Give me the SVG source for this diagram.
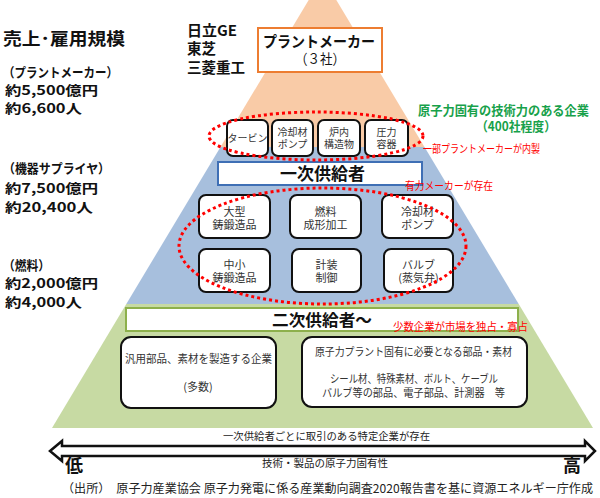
<svg xmlns="http://www.w3.org/2000/svg" width="600" height="498" viewBox="0 0 600 498">
<style>
text{font-family:"Noto Sans CJK JP","Noto Sans",sans-serif;}
.hd{font-size:13px;font-weight:bold;fill:#111;}
.bx{fill:#fff;stroke:#111;stroke-width:2;}
.bt{font-size:11px;fill:#333;text-anchor:middle;}
.tt{font-size:10px;fill:#333;text-anchor:middle;}
.rt{font-size:11px;fill:#ff0000;}
.dot{fill:none;stroke:#ff0000;stroke-width:3;stroke-dasharray:3 3;}
.sm{font-size:10.5px;fill:#222;}
</style>
<rect width="600" height="498" fill="#fff"/>
<g id="pyramid">
<polygon points="322.5,-23 424.5,147 220.5,147" fill="#F9CBA7"/>
<polygon points="220.5,147 424.5,147 518.7,304 126.3,304" fill="#A7BFDD"/>
<polygon points="126.3,304 518.7,304 593,428 52,428" fill="#C7DAA3"/>
</g>
<g id="left-labels">
<text x="3" y="45" font-size="17" font-weight="bold" fill="#111" textLength="122" lengthAdjust="spacingAndGlyphs">売上･雇用規模</text>
<text class="hd" x="3" y="77" textLength="115" lengthAdjust="spacingAndGlyphs">（プラントメーカー）</text>
<text class="hd" x="5" y="95" textLength="93" lengthAdjust="spacingAndGlyphs">約5,500億円</text>
<text class="hd" x="5" y="113" textLength="77" lengthAdjust="spacingAndGlyphs">約6,600人</text>
<text class="hd" x="3" y="173" textLength="107" lengthAdjust="spacingAndGlyphs">（機器サプライヤ）</text>
<text class="hd" x="5" y="193" textLength="93" lengthAdjust="spacingAndGlyphs">約7,500億円</text>
<text class="hd" x="5" y="212" textLength="88" lengthAdjust="spacingAndGlyphs">約20,400人</text>
<text class="hd" x="3" y="270" textLength="47" lengthAdjust="spacingAndGlyphs">（燃料）</text>
<text class="hd" x="5" y="288" textLength="93" lengthAdjust="spacingAndGlyphs">約2,000億円</text>
<text class="hd" x="5" y="307" textLength="77" lengthAdjust="spacingAndGlyphs">約4,000人</text>
</g>
<g id="makers">
<text x="187" y="36" font-size="14.5" font-weight="bold" fill="#111" textLength="50" lengthAdjust="spacingAndGlyphs">日立GE</text>
<text x="187" y="54" font-size="14.5" font-weight="bold" fill="#111">東芝</text>
<text x="187" y="73" font-size="14.5" font-weight="bold" fill="#111" textLength="58" lengthAdjust="spacingAndGlyphs">三菱重工</text>
</g>
<g id="plant-maker">
<rect x="258" y="28" width="124" height="44" fill="#fff" stroke="#ED7D31" stroke-width="2"/>
<text x="319" y="47" font-size="15" font-weight="bold" fill="#111" text-anchor="middle" textLength="112" lengthAdjust="spacingAndGlyphs">プラントメーカー</text>
<text x="320" y="64" font-size="14" fill="#111" text-anchor="middle" textLength="50" lengthAdjust="spacingAndGlyphs">（３社）</text>
</g>
<g id="top-row">
<rect class="bx" x="227" y="120" width="41" height="36" rx="6"/>
<text class="tt" x="247.5" y="142">タービン</text>
<rect class="bx" x="272" y="120" width="41" height="36" rx="6"/>
<text class="tt" x="292.5" y="136">冷却材</text>
<text class="tt" x="292.5" y="148">ポンプ</text>
<rect class="bx" x="318" y="120" width="42" height="36" rx="6"/>
<text class="tt" x="339" y="136">炉内</text>
<text class="tt" x="339" y="148">構造物</text>
<rect class="bx" x="365" y="120" width="43" height="36" rx="6"/>
<text class="tt" x="386.5" y="136">圧力</text>
<text class="tt" x="386.5" y="148">容器</text>
</g>
<g id="green-note">
<text x="418" y="115" font-size="13" font-weight="bold" fill="#17A14A" textLength="171" lengthAdjust="spacingAndGlyphs">原子力固有の技術力のある企業</text>
<text x="476" y="131" font-size="13" font-weight="bold" fill="#17A14A" textLength="80" lengthAdjust="spacingAndGlyphs">（400社程度）</text>
</g>
<g id="primary">
<rect x="218" y="162" width="204" height="23" fill="#fff" stroke="#3F6FB5" stroke-width="2"/>
<text x="322.5" y="180" font-size="17" font-weight="bold" fill="#111" text-anchor="middle" textLength="85" lengthAdjust="spacingAndGlyphs">一次供給者</text>
</g>
<g id="mid-boxes">
<rect class="bx" x="199" y="195" width="71" height="43" rx="7"/>
<text class="bt" x="234.5" y="216">大型</text>
<text class="bt" x="234.5" y="229">鋳鍛造品</text>
<rect class="bx" x="290" y="195" width="71" height="43" rx="7"/>
<text class="bt" x="325.5" y="216">燃料</text>
<text class="bt" x="325.5" y="229">成形加工</text>
<rect class="bx" x="382" y="195" width="71" height="43" rx="7"/>
<text class="bt" x="417.5" y="216">冷却材</text>
<text class="bt" x="417.5" y="229">ポンプ</text>
<rect class="bx" x="199" y="249" width="71" height="43" rx="7"/>
<text class="bt" x="234.5" y="269">中小</text>
<text class="bt" x="234.5" y="282">鋳鍛造品</text>
<rect class="bx" x="292" y="249" width="69" height="43" rx="7"/>
<text class="bt" x="326.5" y="269">計装</text>
<text class="bt" x="326.5" y="282">制御</text>
<rect class="bx" x="384" y="249" width="69" height="43" rx="7"/>
<text class="bt" x="418.5" y="269">バルブ</text>
<text class="bt" x="418.5" y="282">(蒸気弁)</text>
</g>
<g id="secondary">
<rect x="126" y="308" width="392" height="23" fill="#fff" stroke="#8DB04C" stroke-width="2"/>
<text x="322" y="326" font-size="16" font-weight="bold" fill="#111" text-anchor="middle" textLength="100" lengthAdjust="spacingAndGlyphs">二次供給者～</text>
</g>
<g id="bottom-left">
<rect class="bx" x="121" y="337" width="155" height="71" rx="10"/>
<text class="bt" x="198.5" y="363" font-size="10.5" textLength="147" lengthAdjust="spacingAndGlyphs">汎用部品、素材を製造する企業</text>
<text class="bt" x="198" y="391" font-size="10.5">(多数)</text>
</g>
<g id="bottom-right">
<rect class="bx" x="302" y="337" width="225" height="70" rx="10"/>
<text class="bt" x="413.5" y="356" font-size="10.5" textLength="197" lengthAdjust="spacingAndGlyphs">原子力プラント固有に必要となる部品・素材</text>
<text class="bt" x="414" y="383" font-size="10.5" textLength="168" lengthAdjust="spacingAndGlyphs">シール材、特殊素材、ボルト、ケーブル</text>
<text class="bt" x="413.5" y="397" font-size="10.5" textLength="183" lengthAdjust="spacingAndGlyphs">バルブ等の部品、電子部品、計測器　等</text>
</g>
<g id="red-notes">
<ellipse class="dot" cx="316" cy="136" rx="107" ry="24"/>
<ellipse class="dot" cx="322.5" cy="246" rx="143.5" ry="58"/>
<text class="rt" x="423" y="153" textLength="117" lengthAdjust="spacingAndGlyphs">一部プラントメーカーが内製</text>
<text class="rt" x="405" y="190" textLength="88" lengthAdjust="spacingAndGlyphs">有力メーカーが存在</text>
<text class="rt" x="393" y="331" textLength="135" lengthAdjust="spacingAndGlyphs">少数企業が市場を独占・寡占</text>
</g>
<g id="connectors">
<polygon points="50,451 62,441 62,446 585,446 585,441 595,451 585,461 585,456 62,456 62,461" fill="#fff" stroke="#111" stroke-width="2.5" stroke-linejoin="miter"/>
</g>
<g id="axis-labels">
<text class="sm" x="223" y="440" textLength="207" lengthAdjust="spacingAndGlyphs">一次供給者ごとに取引のある特定企業が存在</text>
<text class="sm" x="262" y="467" textLength="126" lengthAdjust="spacingAndGlyphs">技術・製品の原子力固有性</text>
<text x="65" y="472" font-size="18" font-weight="bold" fill="#111">低</text>
<text x="563" y="472" font-size="18" font-weight="bold" fill="#111">高</text>
</g>
<g id="source">
<text x="62" y="493" font-size="12" fill="#222" textLength="531" lengthAdjust="spacingAndGlyphs">（出所）　原子力産業協会 原子力発電に係る産業動向調査2020報告書を基に資源エネルギー庁作成</text>
</g>
</svg>
